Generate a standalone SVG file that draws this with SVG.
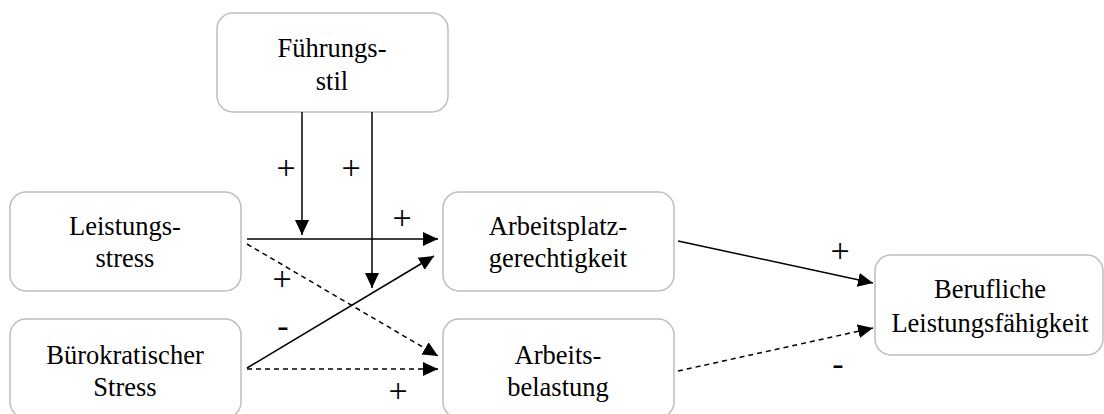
<svg xmlns="http://www.w3.org/2000/svg" width="1104" height="414" viewBox="0 0 1104 414">
<defs>
<marker id="ah" markerUnits="userSpaceOnUse" markerWidth="16" markerHeight="16" viewBox="0 0 16 16" refX="15" refY="8" orient="auto">
<path d="M0,1 L15,8 L0,15 Z" fill="#000"/>
</marker>
<rect id="boxA" width="231" height="99" rx="16" fill="#fff" stroke="#bdbdbd" stroke-width="1.5"/>
</defs>
<rect width="1104" height="414" fill="#fff"/>
<g id="fuehrungsstil"><use href="#boxA" x="217" y="13"/><text x="332" y="57" style="font-family:'Liberation Serif',serif;font-size:26.5px" text-anchor="middle">Führungs-</text><text x="332" y="90" style="font-family:'Liberation Serif',serif;font-size:26.5px" text-anchor="middle">stil</text></g>
<g id="leistungsstress"><use href="#boxA" x="10" y="192"/><text x="125" y="235" style="font-family:'Liberation Serif',serif;font-size:26.5px" text-anchor="middle">Leistungs-</text><text x="125" y="267" style="font-family:'Liberation Serif',serif;font-size:26.5px" text-anchor="middle">stress</text></g>
<g id="buerokratischer"><use href="#boxA" x="10" y="319"/><text x="125" y="364" style="font-family:'Liberation Serif',serif;font-size:26.5px" text-anchor="middle">Bürokratischer</text><text x="125" y="396" style="font-family:'Liberation Serif',serif;font-size:26.5px" text-anchor="middle">Stress</text></g>
<g id="arbeitsplatz"><use href="#boxA" x="443" y="192"/><text x="558" y="235" style="font-family:'Liberation Serif',serif;font-size:26.5px" text-anchor="middle">Arbeitsplatz-</text><text x="558" y="267" style="font-family:'Liberation Serif',serif;font-size:26.5px" text-anchor="middle">gerechtigkeit</text></g>
<g id="arbeitsbelastung"><use href="#boxA" x="443" y="319"/><text x="558" y="364" style="font-family:'Liberation Serif',serif;font-size:26.5px" text-anchor="middle">Arbeits-</text><text x="558" y="396" style="font-family:'Liberation Serif',serif;font-size:26.5px" text-anchor="middle">belastung</text></g>
<g id="berufliche"><rect x="875" y="255" width="228" height="100" rx="16" fill="#fff" stroke="#bdbdbd" stroke-width="1.5"/><text x="990" y="298" style="font-family:'Liberation Serif',serif;font-size:26.5px" text-anchor="middle">Berufliche</text><text x="990" y="332" style="font-family:'Liberation Serif',serif;font-size:26.5px" text-anchor="middle">Leistungsfähigkeit</text></g>
<g id="connectors" fill="none" stroke="#000" stroke-width="1.5" marker-end="url(#ah)">
<line x1="302" y1="112" x2="302" y2="235"/>
<line x1="372" y1="112" x2="372" y2="288"/>
<line x1="247" y1="239" x2="438" y2="239"/>
<line x1="247" y1="244" x2="438" y2="356" stroke-dasharray="5,4"/>
<line x1="247" y1="368" x2="434" y2="256"/>
<line x1="247" y1="369" x2="438" y2="369" stroke-dasharray="5,4"/>
<line x1="678" y1="241" x2="873" y2="283"/>
<line x1="678" y1="371" x2="873" y2="328" stroke-dasharray="5,4"/>
</g>
<g id="labels" text-anchor="middle">
<text x="286" y="179" style="font-family:'Liberation Serif',serif;font-size:34px">+</text>
<text x="351" y="179" style="font-family:'Liberation Serif',serif;font-size:34px">+</text>
<text x="402" y="229" style="font-family:'Liberation Serif',serif;font-size:34px">+</text>
<text x="282" y="290" style="font-family:'Liberation Serif',serif;font-size:34px">+</text>
<text x="283" y="337" style="font-family:'Liberation Serif',serif;font-size:34px">-</text>
<text x="398" y="402" style="font-family:'Liberation Serif',serif;font-size:34px">+</text>
<text x="840" y="262" style="font-family:'Liberation Serif',serif;font-size:34px">+</text>
<text x="838" y="375" style="font-family:'Liberation Serif',serif;font-size:34px">-</text>
</g>
</svg>
